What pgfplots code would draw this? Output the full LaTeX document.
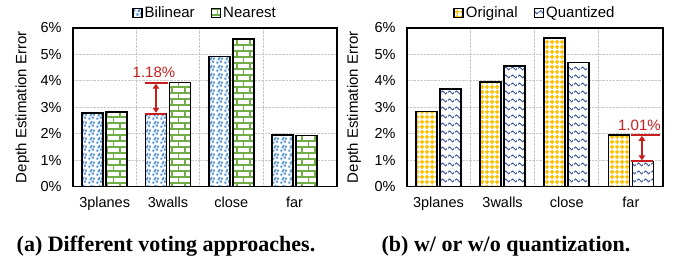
\documentclass[border=0pt]{standalone}
\usepackage{pgfplots}
\pgfplotsset{compat=1.18}
\usepackage{fontspec}
\setmainfont{Liberation Sans}
\newfontfamily\capfont{Liberation Serif}
\usetikzlibrary{patterns,arrows.meta}

\definecolor{dotblue}{RGB}{80,145,210}
\definecolor{brickgreen}{RGB}{112,173,71}
\definecolor{gridyellow}{RGB}{255,192,0}
\definecolor{waveblue}{RGB}{55,85,160}
\definecolor{annred}{RGB}{200,30,30}

\pgfdeclarepatternformonly{sqdots}{\pgfpointorigin}{\pgfpoint{8pt}{8pt}}{\pgfpoint{8pt}{8pt}}{%
  \pgfpathrectangle{\pgfpoint{0.4pt}{0.4pt}}{\pgfpoint{2.3pt}{2.3pt}}%
  \pgfpathrectangle{\pgfpoint{4.4pt}{1.4pt}}{\pgfpoint{2.3pt}{2.3pt}}%
  \pgfpathrectangle{\pgfpoint{1.8pt}{4.1pt}}{\pgfpoint{2.3pt}{2.3pt}}%
  \pgfpathrectangle{\pgfpoint{5.6pt}{4.8pt}}{\pgfpoint{2.2pt}{2.2pt}}%
  \pgfpathrectangle{\pgfpoint{3pt}{6pt}}{\pgfpoint{1.9pt}{1.9pt}}%
  \pgfusepath{fill}}

\pgfdeclarepatternformonly{mybricks}{\pgfpoint{-0.1pt}{-0.1pt}}{\pgfpoint{13.1pt}{12.1pt}}{\pgfpoint{13pt}{12pt}}{%
  \pgfsetlinewidth{1.2pt}%
  \pgfpathmoveto{\pgfpoint{0pt}{3pt}}\pgfpathlineto{\pgfpoint{13pt}{3pt}}%
  \pgfpathmoveto{\pgfpoint{0pt}{9pt}}\pgfpathlineto{\pgfpoint{13pt}{9pt}}%
  \pgfpathmoveto{\pgfpoint{3pt}{3pt}}\pgfpathlineto{\pgfpoint{3pt}{9pt}}%
  \pgfpathmoveto{\pgfpoint{9.5pt}{9pt}}\pgfpathlineto{\pgfpoint{9.5pt}{12.1pt}}%
  \pgfpathmoveto{\pgfpoint{9.5pt}{-0.1pt}}\pgfpathlineto{\pgfpoint{9.5pt}{3pt}}%
  \pgfusepath{stroke}}

\pgfdeclarepatternformonly{mygrid}{\pgfpointorigin}{\pgfpoint{5pt}{5pt}}{\pgfpoint{5pt}{5pt}}{%
  \pgfpathrectangle{\pgfpoint{1.7pt}{0pt}}{\pgfpoint{1.6pt}{5pt}}%
  \pgfpathrectangle{\pgfpoint{0pt}{1.7pt}}{\pgfpoint{5pt}{1.6pt}}%
  \pgfusepath{fill}}

\pgfdeclarepatternformonly{mywaves}{\pgfpointorigin}{\pgfpoint{7pt}{8pt}}{\pgfpoint{7pt}{8pt}}{%
  \pgfsetlinewidth{1pt}%
  \pgfpathmoveto{\pgfpoint{0pt}{4pt}}%
  \pgfpathcurveto{\pgfpoint{1.2pt}{6.2pt}}{\pgfpoint{2.3pt}{6.2pt}}{\pgfpoint{3.5pt}{4pt}}%
  \pgfpathcurveto{\pgfpoint{4.7pt}{1.8pt}}{\pgfpoint{5.8pt}{1.8pt}}{\pgfpoint{7pt}{4pt}}%
  \pgfusepath{stroke}}

\pgfplotsset{
  sqleg/.style={legend image code/.code={\draw[##1, line width=1.5pt] (0pt,-4.5pt) rectangle (9pt,4.5pt);}},
  mystyle/.style={
    ybar=3pt, bar width=21pt,
    scale only axis, height=158.5pt,
    ymin=0, ymax=6, ytick={0,1,2,3,4,5,6},
    yticklabel={\pgfmathprintnumber{\tick}\%},
    xtick={0,1,2,3}, xticklabels={3planes,3walls,close,far},
    minor xtick={0.5,1.5,2.5},
    ymajorgrids, xminorgrids,
    grid style={densely dotted, black!22, line width=0.7pt},
    major tick length=0pt, minor tick length=0pt,
    axis line style={line width=1.6pt},
    tick label style={font=\fontsize{14.5}{17}\selectfont},
    xticklabel style={anchor=base, yshift=-21.5pt},
    yticklabel style={xshift=-8pt},
    /pgf/number format/assume math mode=true,
    ylabel={Depth Estimation Error},
    legend style={at={(axis description cs:0.5,1)}, anchor=center, yshift=15pt,
      draw=none, fill=none, legend columns=2, font=\fontsize{15}{18}\selectfont,
      /tikz/every even column/.append style={column sep=14pt}},
    clip=false,
    every axis plot/.append style={draw=black, line width=1.6pt, fill=white},
  }
}

\begin{document}
\begin{tikzpicture}
\path[use as bounding box] (0pt,0pt) rectangle (678pt,264pt);

\begin{axis}[mystyle, at={(73pt,77.5pt)}, anchor=south west, width=264pt,
  xmin=-0.5, xmax=3.67,
  every axis y label/.style={at={(axis description cs:-0.191,0.5)}, rotate=90, anchor=center, font=\fontsize{15}{18}\selectfont}]
\addplot[fill=white, postaction={pattern=sqdots, pattern color=dotblue}, sqleg]
  coordinates {(0,2.78) (1,2.75) (2,4.92) (3,1.94)};
\addplot[fill=white, postaction={pattern=mybricks, pattern color=brickgreen}, sqleg]
  coordinates {(0,2.81) (1,3.93) (2,5.59) (3,1.93)};
\legend{Bilinear,Nearest}
\draw[annred, line width=1.8pt] ([xshift=-23pt]axis cs:1,3.93) -- ([xshift=0pt]axis cs:1,3.93);
\draw[annred, line width=1.8pt] ([xshift=-23pt]axis cs:1,2.75) -- ([xshift=-1.5pt]axis cs:1,2.75);
\draw[annred, line width=1.2pt, {Triangle[length=5pt,width=6.5pt]}-{Triangle[length=5pt,width=6.5pt]}]
  ([xshift=-12pt]axis cs:1,2.79) -- ([xshift=-12pt]axis cs:1,3.89);
\node[annred, font=\fontsize{15}{18}\selectfont] at ([xshift=-14pt]axis cs:1,4.33) {1.18\%};
\end{axis}

\begin{axis}[mystyle, at={(407pt,77.5pt)}, anchor=south west, width=256pt,
  xmin=-0.49, xmax=3.5,
  every axis y label/.style={at={(axis description cs:-0.207,0.5)}, rotate=90, anchor=center, font=\fontsize{15}{18}\selectfont}]
\addplot[fill=white, postaction={pattern=mygrid, pattern color=gridyellow}, sqleg]
  coordinates {(0,2.84) (1,3.95) (2,5.62) (3,1.96)};
\addplot[fill=white, postaction={pattern=mywaves, pattern color=waveblue}, sqleg]
  coordinates {(0,3.69) (1,4.57) (2,4.70) (3,0.95)};
\legend{Original,Quantized}
\draw[annred, line width=1.8pt] ([xshift=0.5pt]axis cs:3,1.96) -- ([xshift=29.5pt]axis cs:3,1.96);
\draw[annred, line width=1.8pt] ([xshift=0.5pt]axis cs:3,0.95) -- ([xshift=22.5pt]axis cs:3,0.95);
\draw[annred, line width=1.2pt, {Triangle[length=5pt,width=6.5pt]}-{Triangle[length=5pt,width=6.5pt]}]
  ([xshift=11pt]axis cs:3,0.99) -- ([xshift=11pt]axis cs:3,1.92);
\node[annred, font=\fontsize{15}{18}\selectfont] at ([xshift=8.5pt]axis cs:3,2.30) {1.01\%};
\end{axis}

\node[anchor=base, font=\fontsize{22}{26}\selectfont\capfont\bfseries] at (166pt,12pt) {(a) Different voting approaches.};
\node[anchor=base, font=\fontsize{22}{26}\selectfont\capfont\bfseries] at (506pt,12pt) {(b) w/ or w/o quantization.};
\end{tikzpicture}
\end{document}
